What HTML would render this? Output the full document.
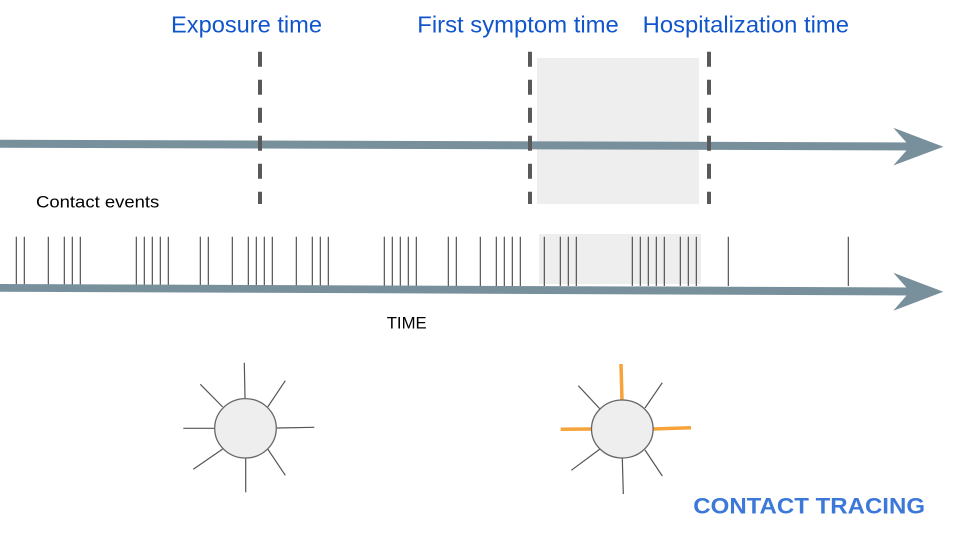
<!DOCTYPE html>
<html><head><meta charset="utf-8"><style>
html,body{margin:0;padding:0;background:#fff;}
svg{display:block;}
</style></head><body>
<svg width="960" height="540" viewBox="0 0 960 540" xmlns="http://www.w3.org/2000/svg">
<rect x="0" y="0" width="960" height="540" fill="#fff"/>
<!-- top shaded rect -->
<rect x="537" y="58" width="162" height="146" fill="#eeeeee"/>
<!-- top arrow -->
<polygon points="0,139.7 912,142.5 912,150.5 0,147.7" fill="#78909c"/>
<polygon points="893.3,127.7 943.3,146.7 893.3,165.5 910,146.5" fill="#78909c"/>
<!-- dashed lines -->
<g stroke="#595959" stroke-width="4" stroke-dasharray="15 13">
<line x1="260" y1="51.7" x2="260" y2="204"/>
<line x1="530" y1="51.7" x2="530" y2="204"/>
<line x1="709" y1="51.7" x2="709" y2="204"/>
</g>
<!-- titles -->
<g font-family="'Liberation Sans', Arial, sans-serif" font-size="23.5" fill="#1155cc">
<text x="171" y="32.3" textLength="151" lengthAdjust="spacingAndGlyphs">Exposure time</text>
<text x="417.3" y="32.3" textLength="201.5" lengthAdjust="spacingAndGlyphs">First symptom time</text>
<text x="642.7" y="32.3" textLength="206.3" lengthAdjust="spacingAndGlyphs">Hospitalization time</text>
</g>
<text x="36" y="207.3" font-family="'Liberation Sans', Arial, sans-serif" font-size="17" fill="#000" textLength="123.3" lengthAdjust="spacingAndGlyphs">Contact events</text>
<!-- lower shaded -->
<rect x="539" y="234" width="162" height="50" fill="#eeeeee"/>
<!-- ticks -->
<g stroke="#444" stroke-width="1.1">
<path d="M16.3 236.7V286 M24.3 236.7V286 M48.3 236.7V286 M64.3 236.7V286 M72.3 236.7V286 M80.3 236.7V286
M136.3 236.7V286 M144.3 236.7V286 M152.3 236.7V286 M160.3 236.7V286 M168.3 236.7V286
M200.3 236.7V286 M208.3 236.7V286 M232.3 236.7V286 M248.3 236.7V286 M256.3 236.7V286 M264.3 236.7V286 M272.3 236.7V286
M296.3 236.7V286 M312.3 236.7V286 M320.3 236.7V286 M328.3 236.7V286
M384.3 236.7V286 M392.3 236.7V286 M400.3 236.7V286 M408.3 236.7V286 M416.3 236.7V286
M448.3 236.7V286 M456.3 236.7V286
M480.3 236.7V286 M496.3 236.7V286 M504.3 236.7V286 M512.3 236.7V286 M520.3 236.7V286
M544.3 236.7V286 M560.3 236.7V286 M568.3 236.7V286 M576.3 236.7V286
M632.3 236.7V286 M640.3 236.7V286 M648.3 236.7V286 M656.3 236.7V286 M664.3 236.7V286
M680.3 236.7V286 M688.3 236.7V286 M696.3 236.7V286
M728.3 236.7V286 M848.3 236.7V286"/>
</g>
<!-- lower arrow -->
<polygon points="0,284 912,287.5 912,295.5 0,291.7" fill="#78909c"/>
<polygon points="893.3,272.7 943.3,291.7 893.3,310.7 910,291.5" fill="#78909c"/>
<text x="386.7" y="328.3" font-family="'Liberation Sans', Arial, sans-serif" font-size="17" fill="#000" textLength="40" lengthAdjust="spacingAndGlyphs">TIME</text>
<!-- sun 1 -->
<g stroke="#555" stroke-width="1.2">
<line x1="244.3" y1="362.7" x2="245" y2="398"/>
<line x1="285.3" y1="380.7" x2="267.7" y2="407"/>
<line x1="277" y1="428" x2="314.3" y2="427.3"/>
<line x1="267.7" y1="449" x2="285.3" y2="475.3"/>
<line x1="245.7" y1="458" x2="245.7" y2="492.3"/>
<line x1="222.7" y1="449" x2="193.3" y2="469.3"/>
<line x1="183.3" y1="428.3" x2="214" y2="428.3"/>
<line x1="200.3" y1="384.3" x2="222.7" y2="407"/>
</g>
<ellipse cx="245.5" cy="428.3" rx="30.8" ry="29.7" fill="#eeeeee" stroke="#666" stroke-width="1.3"/>
<!-- sun 2 -->
<g stroke="#555" stroke-width="1.2">
<line x1="662.3" y1="382.7" x2="645" y2="408"/>
<line x1="578.3" y1="385.7" x2="600" y2="409"/>
<line x1="571.3" y1="470.3" x2="600" y2="449"/>
<line x1="662.3" y1="476" x2="645" y2="450"/>
<line x1="623.3" y1="494" x2="622.3" y2="458"/>
</g>
<g stroke="#f6a33a" stroke-width="3.5">
<line x1="621" y1="364" x2="622" y2="400"/>
<line x1="652" y1="429" x2="691" y2="427.7"/>
<line x1="560.7" y1="429.3" x2="592" y2="429"/>
</g>
<ellipse cx="622.3" cy="429" rx="30.8" ry="29" fill="#eeeeee" stroke="#666" stroke-width="1.3"/>
<text x="693.3" y="513.3" font-family="'Liberation Sans', Arial, sans-serif" font-size="22" font-weight="bold" fill="#3c78d8" textLength="231.7" lengthAdjust="spacingAndGlyphs">CONTACT TRACING</text>
</svg>
</body></html>
